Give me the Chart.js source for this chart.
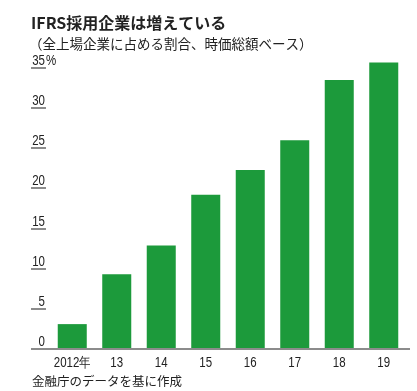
<!DOCTYPE html>
<html>
<head>
<meta charset="utf-8">
<script src="https://cdn.jsdelivr.net/npm/chart.js@4"></script>
<style>
  html, body { margin: 0; padding: 0; background: #fff; }
  #wrap { width: 417px; height: 391px; }
</style>
</head>
<body>
<div id="wrap"><canvas id="chart"></canvas></div>
<script>
// data
const years = ['2012年', '13', '14', '15', '16', '17', '18', '19'];
const shares = [3.1, 9.3, 12.9, 19.2, 22.3, 26.0, 33.5, 35.7];
const yTicks = [0, 5, 10, 15, 20, 25, 30, 35];

const titleText = 'IFRS採用企業は増えている';
const subText = '（全上場企業に占める割合、時価総額ベース）';
const sourceText = '金融庁のデータを基に作成';

const numFont = '"Liberation Sans", Arial, sans-serif';
const jpFont = '"Noto Sans CJK JP", sans-serif';
const squeeze = 0.82; // the original numbers are set in a narrow face

// condensed text helper
function narrowText(ctx, text, x, y, align) {
  ctx.save();
  ctx.translate(x, y);
  ctx.scale(squeeze, 1);
  ctx.textAlign = align;
  ctx.fillText(text, 0, 0);
  ctx.restore();
}

// texts, baseline, tick labels and the short underlines under the y labels
const decor = {
  id: 'decor',
  afterDraw(chart) {
    const ctx = chart.ctx;
    const xs = chart.scales.x;
    const ys = chart.scales.y;
    ctx.save();
    ctx.fillStyle = '#222';
    ctx.textBaseline = 'alphabetic';
    ctx.font = 'bold 16px ' + jpFont;
    ctx.fillText(titleText, 31, 29);
    ctx.font = '13.5px ' + jpFont;
    ctx.fillText(subText, 29, 49);
    ctx.font = '12.5px ' + jpFont;
    ctx.fillText(sourceText, 32, 386);

    // y labels with their underlines
    ctx.font = '14px ' + numFont;
    yTicks.forEach(v => {
      const py = Math.round(ys.getPixelForValue(v));
      ctx.fillStyle = '#222';
      narrowText(ctx, String(v), 45, py - 3, 'right');
      if (v === 35) narrowText(ctx, '%', 46, py - 3, 'left');
    });
    ctx.fillStyle = '#8c8c8c';
    yTicks.forEach(v => {
      const py = Math.round(ys.getPixelForValue(v));
      ctx.fillRect(31, py - 1, 15, 2);
    });

    // baseline
    const base = Math.round(ys.getPixelForValue(0));
    ctx.fillRect(31, base - 1, 379, 2);

    // category labels
    ctx.fillStyle = '#222';
    years.forEach((lab, i) => {
      narrowText(ctx, lab, xs.getPixelForValue(i), 367, 'center');
    });
    ctx.restore();
  }
};

new Chart(document.getElementById('chart'), {
  type: 'bar',
  data: {
    labels: years,
    datasets: [{
      data: shares,
      backgroundColor: '#1c9a3b',
      borderWidth: 0,
      barPercentage: 0.652,
      categoryPercentage: 1
    }]
  },
  options: {
    responsive: true,
    maintainAspectRatio: false,
    animation: false,
    layout: { padding: { left: 0, right: 11, top: 60, bottom: 0 } },
    plugins: {
      legend: { display: false },
      tooltip: { enabled: false }
    },
    scales: {
      x: {
        grid: { display: false, drawTicks: false },
        border: { display: false },
        ticks: { display: false },
        afterFit(scale) { scale.height = 42; }
      },
      y: {
        min: 0,
        max: 36,
        grid: { display: false, drawTicks: false },
        border: { display: false },
        afterBuildTicks(scale) {
          scale.ticks = yTicks.map(v => ({ value: v }));
        },
        ticks: { display: false },
        afterFit(scale) { scale.width = 50; }
      }
    }
  },
  plugins: [decor]
});
</script>
</body>
</html>
